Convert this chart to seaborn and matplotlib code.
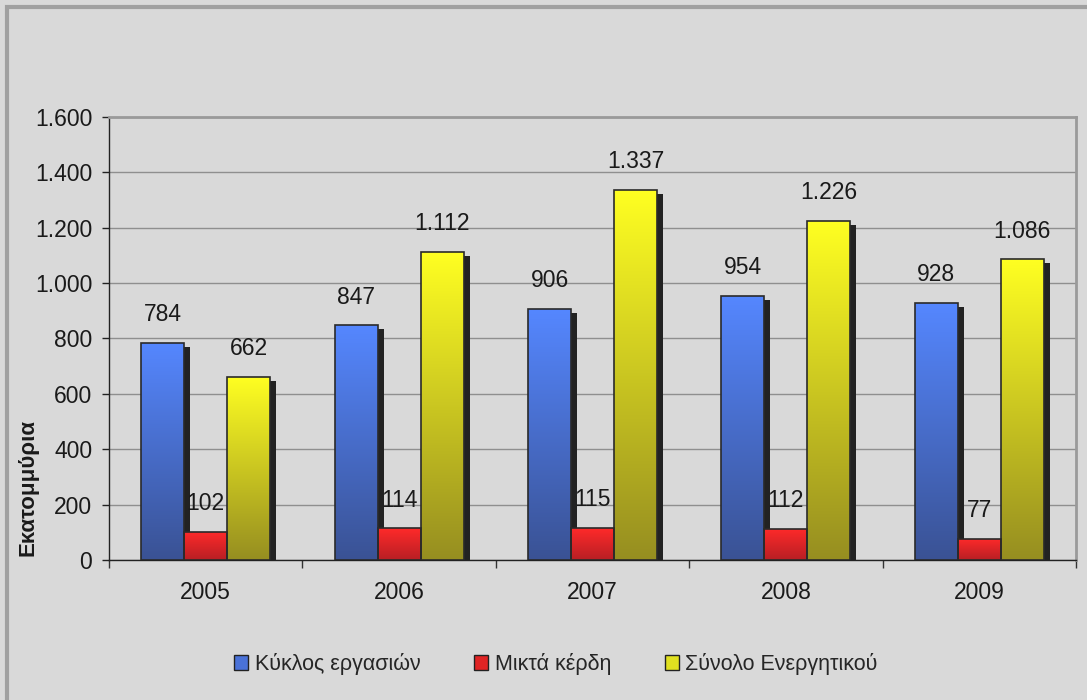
import matplotlib
matplotlib.use('Agg')

import matplotlib.pyplot as plt
import matplotlib.patches as mpatches
import matplotlib.colors as mcolors
from matplotlib.ticker import FuncFormatter, FixedLocator
import numpy as np
import pandas as pd
import seaborn as sns

# === Data ===
years = ["2005", "2006", "2007", "2008", "2009"]
series = ["Κύκλος εργασιών", "Μικτά κέρδη", "Σύνολο Ενεργητικού"]
turnover = [784, 847, 906, 954, 928]
gross_profit = [102, 114, 115, 112, 77]
total_assets = [662, 1112, 1337, 1226, 1086]
y_ticks = [0, 200, 400, 600, 800, 1000, 1200, 1400, 1600]

# gradient colours (top, bottom) per series
grad = {
    series[0]: ("#5587ff", "#3a5294"),
    series[1]: ("#ff2a2a", "#b81f24"),
    series[2]: ("#ffff22", "#968e20"),
}
legend_col = ["#4a72d8", "#e02424", "#e0e020"]
BG = "#d9d9d9"
FS = 16.5


def greek(v):
    return f"{int(v):,}".replace(",", ".")


df = pd.DataFrame({
    "year": years * 3,
    "series": [series[0]] * 5 + [series[1]] * 5 + [series[2]] * 5,
    "value": turnover + gross_profit + total_assets,
})

sns.set_style("white")
plt.rcParams['font.family'] = ['Liberation Sans', 'DejaVu Sans']

fig = plt.figure(figsize=(10.87, 7.0), dpi=100, facecolor=BG)
ax = fig.add_axes([109 / 1087, 0.2, (1076 - 109) / 1087, (560 - 117) / 700])
ax.set_facecolor(BG)

sns.barplot(data=df, x="year", y="value", hue="series", hue_order=series,
            order=years, width=0.667, gap=0, palette=legend_col,
            ax=ax, legend=False, zorder=3)

ax.set_xlim(-0.5, 4.5)
ax.set_ylim(0, 1600)

# px -> data units for the shadow
px_x = 1.0 / (1076 - 109) * 5
px_y = 1600.0 / (560 - 117)

bars = [p for p in ax.patches if isinstance(p, mpatches.Rectangle)]
for i, p in enumerate(bars):
    s = series[i // 5]
    x, w, h = p.get_x(), p.get_width(), p.get_height()
    # shadow on the right side
    ax.add_patch(mpatches.Rectangle((x + w, 0), 6 * px_x, h - 4 * px_y,
                                    facecolor="#222222", edgecolor="none", zorder=2))
    # gradient fill
    top, bot = grad[s]
    cmap = mcolors.LinearSegmentedColormap.from_list("g", [bot, top])
    img = ax.imshow(np.linspace(0, 1, 256).reshape(-1, 1), cmap=cmap,
                    extent=(x, x + w, 0, h), origin="lower", aspect="auto",
                    zorder=3.5, interpolation="bicubic")
    img.set_clip_path(p)
    p.set_facecolor("none")
    p.set_edgecolor("#2a2a2a")
    p.set_linewidth(1.2)
    p.set_zorder(4)
    ax.annotate(greek(h), (x + w / 2, h), xytext=(0, 12), textcoords="offset points",
                ha="center", va="bottom", fontsize=FS, color="#1a1a1a", zorder=5)

ax.set_xlim(-0.5, 4.5)
ax.set_ylim(0, 1600)
ax.set_aspect("auto")

# grid and axes styling
ax.yaxis.set_major_locator(FixedLocator(y_ticks))
ax.yaxis.set_major_formatter(FuncFormatter(lambda v, _: greek(v)))
ax.grid(axis="y", color="#8f8f8f", linewidth=1.0, zorder=0)
ax.set_axisbelow(True)
ax.tick_params(axis="y", direction="out", length=5, width=1, color="#222222",
               labelsize=FS, labelcolor="#1a1a1a", pad=7, left=True)
ax.set_xticks(range(5))
ax.set_xticklabels(years)
ax.tick_params(axis="x", length=0, labelsize=FS, labelcolor="#1a1a1a", pad=15)
ax.xaxis.set_minor_locator(FixedLocator(np.arange(-0.5, 4.6, 1.0)))
ax.tick_params(axis="x", which="minor", direction="out", length=6, width=1,
               color="#333333", bottom=True)

for side in ["left", "bottom"]:
    ax.spines[side].set_color("#222222")
    ax.spines[side].set_linewidth(1.0)
for side in ["top", "right"]:
    ax.spines[side].set_color("#9a9a9a")
    ax.spines[side].set_linewidth(2.0)

ax.set_xlabel("")
ax.set_ylabel("Εκατομμύρια", fontsize=16, fontweight="bold", color="#1a1a1a")
ax.yaxis.set_label_coords((39 - 109) / 967, (560 - 487) / 443)

# legend at the bottom
handles = [mpatches.Patch(facecolor=c, edgecolor="#222222", linewidth=1.0, label=s)
           for c, s in zip(legend_col, series)]
fig.legend(handles=handles, loc="center", bbox_to_anchor=(556 / 1087, 1 - 664 / 700),
           ncol=3, frameon=False, fontsize=15.5, handlelength=0.65,
           handleheight=0.65, handletextpad=0.3, columnspacing=2.5)

# outer frame of the chart area
fig.patches.append(mpatches.Rectangle((7 / 1087, -0.05), 1.2, 1 - 7 / 700 + 0.05,
                                      transform=fig.transFigure, facecolor="none",
                                      edgecolor="#a0a0a0", linewidth=3))

fig.savefig("out.png", dpi=100, facecolor=BG)
